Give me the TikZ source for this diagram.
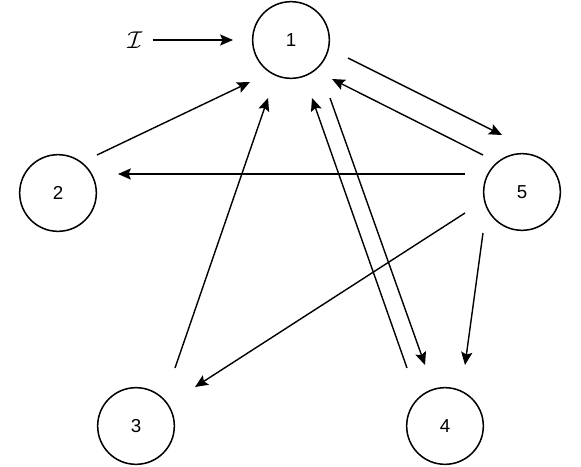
\documentclass[tikz,border=0pt]{standalone}
\usepackage{fontspec}
\setmainfont{Liberation Sans}
\usetikzlibrary{arrows.meta}
\begin{document}
\begin{tikzpicture}[x=0.03cm,y=-0.03cm,
state/.style ={circle, draw=black, line width=1.3pt,
  minimum size=2.3cm, inner sep=0pt, font=\fontsize{16}{18}\selectfont
},
edge/.style ={line width=1.2pt, -{Stealth[length=11pt,width=9.5pt,inset=2pt]}
}]
\useasboundingbox (0,0) rectangle (581,466);
\node (n1) at (291,40) [state] {1};
\node (n2) at (58,193) [state] {2};
\node (n3) at (136,426) [state] {3};
\node (n4) at (445,426) [state] {4};
\node (n5) at (522,192) [state] {5};
\node (in) at (135,40) [inner sep=0pt] {\fontsize{20}{22}\selectfont$\mathcal{I}$};
% input
\draw[edge] ([shift={(10,0)}]in.east) -- ([shift={(-58,0)}]n1.center);
% into state 1
\draw[edge] ([shift={(39,-38)}]n2.center) -- ([shift={(-41,42)}]n1.center);
\draw[edge] ([shift={(39,-58)}]n3.center) -- ([shift={(-23,58)}]n1.center);
\draw[edge] ([shift={(-38,-58)}]n4.center) -- ([shift={(21,58)}]n1.center);
\draw[edge] ([shift={(-39,-37)}]n5.center) -- ([shift={(41,39)}]n1.center);
% out of state 1
\draw[edge] ([shift={(39,58)}]n1.center) -- ([shift={(-20,-61)}]n4.center);
\draw[edge] ([shift={(57,18)}]n1.center) -- ([shift={(-20,-57)}]n5.center);
% out of state 5
\draw[edge] ([shift={(-57,-18)}]n5.center) -- ([shift={(60,-19)}]n2.center);
\draw[edge] ([shift={(-57,21)}]n5.center) -- ([shift={(59,-39)}]n3.center);
\draw[edge] ([shift={(-39,41)}]n5.center) -- ([shift={(20,-61)}]n4.center);
\end{tikzpicture}
\end{document}
